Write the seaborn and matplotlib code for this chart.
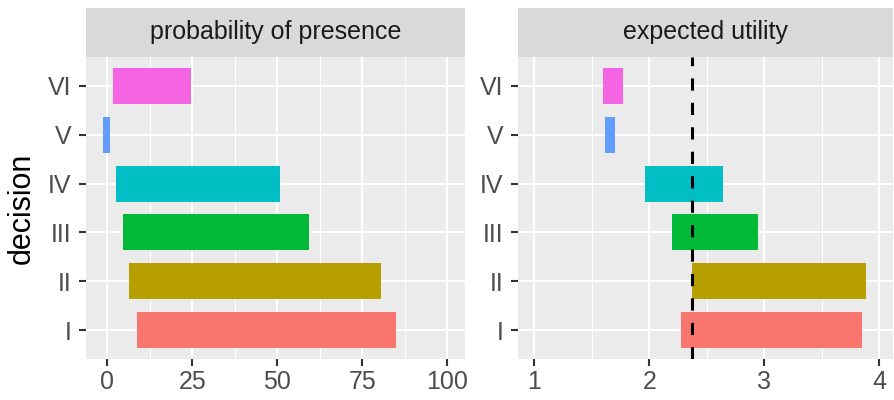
import numpy as np
import pandas as pd
import matplotlib
matplotlib.use("Agg")
import matplotlib.pyplot as plt
import seaborn as sns

# datos
decision = ["I", "II", "III", "IV", "V", "VI"]
colores = ["#F8766D", "#B79F00", "#00BA38", "#00BFC4", "#619CFF", "#F564E3"]
prob_ini = [8.7, 6.5, 4.5, 2.6, -1.2, 1.6]
prob_fin = [85.0, 80.4, 59.3, 50.7, 0.8, 24.6]
util_ini = [2.28, 2.37, 2.20, 1.96, 1.615, 1.595]
util_fin = [3.85, 3.89, 2.95, 2.64, 1.705, 1.775]
util_ref = 2.37
paneles = ["probability of presence", "expected utility"]

orden = decision[::-1]

plt.rcParams['font.family'] = ['Liberation Sans', 'DejaVu Sans']
fig = plt.figure(figsize=(8.94, 4), dpi=100)

W, H = 894, 400
def caja(x0, x1, y0, y1):
    return [x0 / W, 1 - y1 / H, (x1 - x0) / W, (y1 - y0) / H]

cajas = [(86, 465), (518, 893)]
limites = [(-6.26, 105.2), (0.858, 4.122)]
mayores = [[0, 25, 50, 75, 100], [1, 2, 3, 4]]
menores = [[12.5, 37.5, 62.5, 87.5], [1.5, 2.5, 3.5]]
etiquetas = [["0", "25", "50", "75", "100"], ["1", "2", "3", "4"]]
inicios = [prob_ini, util_ini]
finales = [prob_fin, util_fin]

for i in range(2):
    x0, x1 = cajas[i]
    ax = fig.add_axes(caja(x0, x1, 56.7, 359.3))
    ax.set_facecolor("#EBEBEB")
    df = pd.DataFrame({"decision": decision,
                       "ini": inicios[i],
                       "largo": np.array(finales[i]) - np.array(inicios[i])})
    sns.barplot(data=df, x="largo", y="decision", hue="decision", order=orden,
                hue_order=decision, palette=colores, legend=False, width=0.74,
                saturation=1, linewidth=0, ax=ax)
    # mover cada barra a su inicio
    ini_map = dict(zip(df["decision"], df["ini"]))
    for p in ax.patches:
        k = int(round(p.get_y() + p.get_height() / 2))
        p.set_x(ini_map[orden[k]])
    if i == 1:
        ax.axvline(util_ref, color="black", linewidth=2.2, dashes=(4, 4), zorder=5)
    ax.set_xlim(*limites[i])
    ax.set_ylim(5.6, -0.6)
    ax.set_xticks(mayores[i])
    ax.set_xticklabels(etiquetas[i])
    ax.set_xticks(menores[i], minor=True)
    ax.set_axisbelow(True)
    ax.grid(which="major", color="white", linewidth=1.5)
    ax.grid(which="minor", axis="x", color="white", linewidth=0.75)
    ax.tick_params(which="major", length=5, width=1.5, color="#333333",
                   labelsize=18, labelcolor="#4D4D4D", pad=2.5)
    ax.tick_params(axis="y", pad=5.5)
    ax.tick_params(which="minor", length=0)
    for s in ax.spines.values():
        s.set_visible(False)
    ax.set_xlabel("")
    ax.set_ylabel("")

    # franja del panel
    st = fig.add_axes(caja(x0, x1, 8, 56.7))
    st.set_facecolor("#D9D9D9")
    st.set_xticks([])
    st.set_yticks([])
    for s in st.spines.values():
        s.set_visible(False)
    st.text(0.5, 0.5, paneles[i], ha="center", va="center", fontsize=18,
            color="#1A1A1A", transform=st.transAxes)

fig.text(22 / W, 1 - 208 / H, "decision", rotation=90, ha="center", va="center",
         fontsize=22, color="black")

fig.savefig("out.png", dpi=100)
